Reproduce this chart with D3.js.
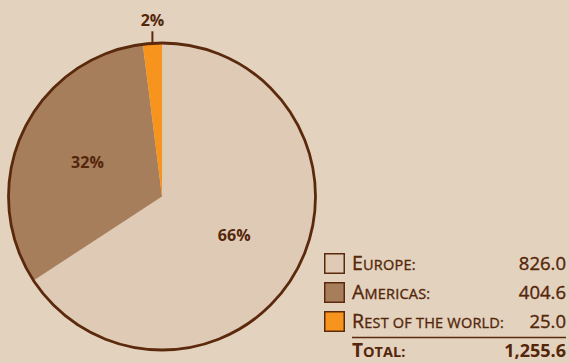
<!DOCTYPE html>
<html>
<head>
<meta charset="utf-8">
<script src="https://cdn.jsdelivr.net/npm/d3@7"></script>
<style>
	body{margin:0;background:#e3d2be;}
	svg{display:block;}
	text{font-family:"Open Sans","Noto Sans",sans-serif;fill:#54260a;}
	text.heavy{stroke:#54260a;stroke-width:0.35px;}
</style>
</head>
<body>
<div class="chart"></div>
<script>
var regions = ["Europe:","Americas:","Rest of the world:"];
var values = [826.0,404.6,25.0];
var shares = ["66%","32%","2%"];
var colors = ["#dfcab6","#a67e5c","#f7941d"];
var totalLabel = "Total:";
var totalValue = "1,255.6";

var width = 569, height = 363, cx = 162, cy = 196.5, radius = 153.5;
var ink = "#5b2a0c";

var svg = d3.select(".chart")
			.append("svg")
			.attr("width",width)
			.attr("height",height);

svg.append("rect")
	.attr("width",width)
	.attr("height",height)
	.attr("fill","#e3d2be");

var pie = d3.pie().sort(null).value(function(d){return d;});
var arcs = pie(values);
var arc = d3.arc().innerRadius(0).outerRadius(radius);

var g = svg.append("g").attr("transform","translate("+cx+","+cy+")");

g.selectAll("path.slice")
	.data(arcs)
	.enter()
	.append("path")
	.attr("class","slice")
	.attr("d",arc)
	.attr("fill",function(d,i){return colors[i];});

//outline only around the circle, slices have no borders
g.append("circle")
	.attr("r",radius)
	.attr("fill","none")
	.attr("stroke",ink)
	.attr("stroke-width",2.8);

//percentage labels inside the two big slices
var labelArc = d3.arc().innerRadius(radius*0.535).outerRadius(radius*0.535);
g.selectAll("text.pct")
	.data(arcs.slice(0,2))
	.enter()
	.append("text")
	.attr("class","pct")
	.attr("transform",function(d,i){
		var c = labelArc.centroid(d);
		return "translate("+c[0]+","+c[1]+")";
	})
	.attr("text-anchor","middle")
	.attr("dy","0.35em")
	.style("font-size","16px")
	.style("font-weight","bold")
	.text(function(d,i){return shares[i];});

//small slice gets a leader line above the pie
var small = arcs[2];
var mid = (small.startAngle+small.endAngle)/2;
var lx = Math.sin(mid)*radius, ly = -Math.cos(mid)*radius;
g.append("line")
	.attr("x1",lx).attr("y1",ly)
	.attr("x2",lx).attr("y2",ly-12)
	.attr("stroke",ink)
	.attr("stroke-width",2);
g.append("text")
	.attr("x",lx)
	.attr("y",ly-17)
	.attr("text-anchor","middle")
	.style("font-size","16px")
	.style("font-weight","bold")
	.text(shares[2]);

//fake small caps: capitals big, the rest uppercased at a smaller size
var smallCaps = function(sel,str,big,little){
	str.split(/(\s+)/).forEach(function(word){
		if(!word.trim()){
			sel.append("tspan").style("font-size",little+"px").text(" ");
			return;
		}
		for(var k=0;k<word.length;k++){
			var ch = word[k];
			var isCap = ch != ch.toLowerCase();
			sel.append("tspan")
				.style("font-size",(isCap ? big : little)+"px")
				.text(ch.toUpperCase());
		}
	});
}

//legend
var legX = 324, legY = 253, rowH = 29, sw = 21, rightX = 566;
var leg = svg.append("g");
regions.forEach(function(name,i){
	var y = legY + i*rowH;
	leg.append("rect")
		.attr("x",legX+0.75)
		.attr("y",y+0.75)
		.attr("width",sw-1.5)
		.attr("height",sw-1.5)
		.attr("fill",colors[i])
		.attr("stroke",ink)
		.attr("stroke-width",1.5);
	var t = leg.append("text")
		.attr("class","heavy")
		.attr("x",legX+sw+7)
		.attr("y",y+17)
		.style("letter-spacing","0.2px");
	smallCaps(t,name,19.5,14.5);
	leg.append("text")
		.attr("class","heavy")
		.attr("x",rightX)
		.attr("y",y+17)
		.attr("text-anchor","end")
		.style("font-size","18.5px")
		.text(d3.format(".1f")(values[i]));
});

leg.append("line")
	.attr("x1",legX+sw+7)
	.attr("x2",rightX)
	.attr("y1",337.5)
	.attr("y2",337.5)
	.attr("stroke",ink)
	.attr("stroke-width",1.3);

var tot = leg.append("text")
	.attr("x",legX+sw+7)
	.attr("y",357)
	.style("font-weight","bold");
smallCaps(tot,totalLabel,19,14.5);
leg.append("text")
	.attr("x",rightX)
	.attr("y",357)
	.attr("text-anchor","end")
	.style("font-size","18px")
	.style("font-weight","bold")
	.text(totalValue);
</script>
</body>
</html>
